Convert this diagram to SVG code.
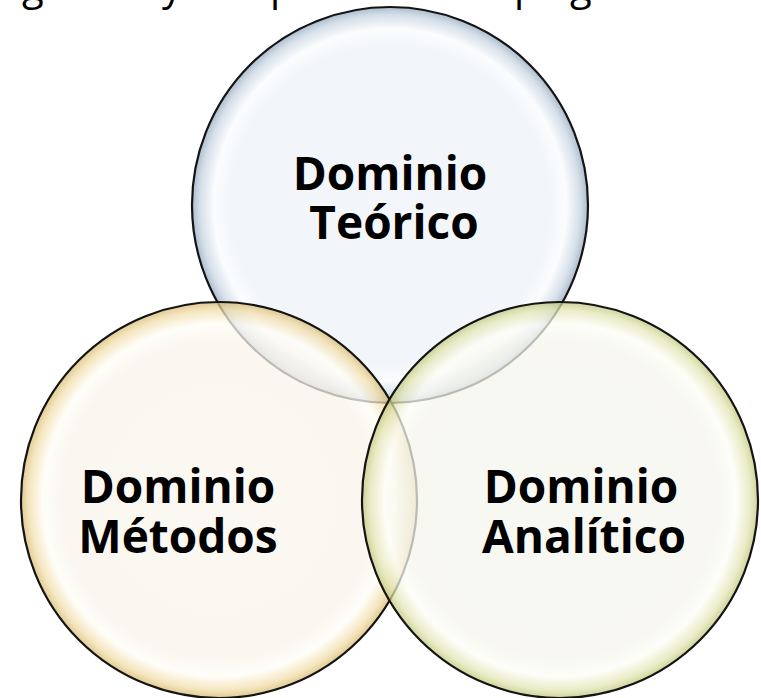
<svg xmlns="http://www.w3.org/2000/svg" width="761" height="698" viewBox="0 0 761 698">
  <defs>
    <radialGradient id="gBlue" cx="0.5" cy="0.5" r="0.5">
      <stop offset="0" stop-color="#EFF3F8"/>
      <stop offset="0.80" stop-color="#EEF2F7"/>
      <stop offset="0.89" stop-color="#F9FBFD"/>
      <stop offset="0.96" stop-color="#C7D4E1"/>
      <stop offset="1" stop-color="#8FA5BC"/>
    </radialGradient>
    <radialGradient id="gTan" cx="0.5" cy="0.5" r="0.5">
      <stop offset="0" stop-color="#FAF6EF"/>
      <stop offset="0.80" stop-color="#F9F4EA"/>
      <stop offset="0.89" stop-color="#FFFDF7"/>
      <stop offset="0.96" stop-color="#F1DDA8"/>
      <stop offset="1" stop-color="#D6B96E"/>
    </radialGradient>
    <radialGradient id="gGreen" cx="0.5" cy="0.5" r="0.5">
      <stop offset="0" stop-color="#F6F6EF"/>
      <stop offset="0.80" stop-color="#F5F5EC"/>
      <stop offset="0.89" stop-color="#FDFDF7"/>
      <stop offset="0.96" stop-color="#E2E6B3"/>
      <stop offset="1" stop-color="#BFC57A"/>
    </radialGradient>
  </defs>
  <style>
    .ring { stroke: #141414; stroke-width: 2.2; fill-opacity: 0.74; }
    .lbl { font-family: "Open Sans", "Liberation Sans", sans-serif; font-weight: bold; font-size: 46px; fill: #000; text-anchor: middle; }
    .frag { font-family: "Open Sans", "Liberation Sans", sans-serif; font-size: 40px; fill: #000; }
  </style>
  <rect width="761" height="698" fill="#FFFFFF"/>
  <g id="title-fragments">
    <text class="frag" x="22" y="0">g</text>
    <text class="frag" x="162" y="0">y</text>
    <text class="frag" x="270" y="0">p</text>
    <text class="frag" x="514" y="0">p</text>
    <text class="frag" x="570" y="0">g</text>
  </g>
  <g id="node-teorico">
    <circle class="ring" cx="390" cy="205" r="198" fill="url(#gBlue)"/>
    <text class="lbl"><tspan x="390" y="190">Dominio</tspan><tspan x="394" y="239">Teórico</tspan></text>
  </g>
  <g id="node-metodos">
    <circle class="ring" cx="219" cy="500" r="198" fill="url(#gTan)"/>
    <text class="lbl"><tspan x="178" y="503">Dominio</tspan><tspan x="178" y="553">Métodos</tspan></text>
  </g>
  <g id="node-analitico">
    <circle class="ring" cx="560" cy="500" r="198" fill="url(#gGreen)"/>
    <text class="lbl"><tspan x="581" y="503">Dominio</tspan><tspan x="584" y="553">Analítico</tspan></text>
  </g>
  <g id="connectors"/>
</svg>
